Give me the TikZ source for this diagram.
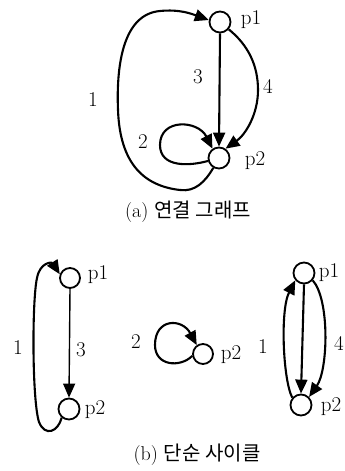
\documentclass[tikz,border=0pt]{standalone}
\usepackage{fontspec}
\newfontfamily\kr{Noto Sans CJK KR}
\usetikzlibrary{arrows.meta}
\begin{document}
\begin{tikzpicture}[x=1pt,y=-1pt,
  vtx/.style={circle,draw,line width=1.8pt,minimum size=21pt,inner sep=0pt},
  edge/.style={line width=2.1pt,-{Triangle[length=14pt,width=12pt]}},
  lbl/.style={font=\fontsize{21}{21}\selectfont,inner sep=0pt},
  captext/.style={font=\fontsize{20}{20}\selectfont,inner sep=0pt}]
\useasboundingbox (0,0) rectangle (345,471);
% (a)
\node[vtx] (a1) at (220,22) {};
\node[vtx] (a2) at (219,158) {};
\node[lbl] (a1l) at (251,20) {p1};
\node[lbl] (a2l) at (255,161) {p2};
\draw[edge] (a1.south) -- (a2.north);
\draw[edge] (a1.-40) .. controls (248,45) and (258,65) .. (258,90) .. controls (258,115) and (245,135) .. (a2.55);
\draw[edge] (a2.240) .. controls (205,182) and (195,192) .. (180,190) .. controls (145,186) and (120,165) .. (118,110) .. controls (116,60) and (125,14) .. (160,11) .. controls (180,9) and (192,14) .. (a1.170);
\draw[edge] (a2.195) .. controls (190,166) and (160,168) .. (160,145) .. controls (160,118) and (198,120) .. (a2.125);
\node[lbl] (la1) at (93,100) {1};
\node[lbl] (la2) at (143,142) {2};
\node[lbl] (la3) at (198,77) {3};
\node[lbl] (la4) at (268,86) {4};
\node[captext] (capa) at (188,212) {(a)\ {\kr 연결 그래프}};
% (b) left
\node[vtx,minimum size=20pt] (b1) at (70,278) {};
\node[vtx] (b2) at (69,409) {};
\node[lbl] (b1l) at (98,275) {p1};
\node[lbl] (b2l) at (95,410) {p2};
\draw[edge,line width=1.4pt] (b1.south) -- (b2.north);
\draw[edge] (b2.230) .. controls (58,432) and (45,437) .. (39,422) .. controls (32,400) and (32,300) .. (37,278) .. controls (40,262) and (52,262) .. (b1.160);
\node[lbl] (lb1) at (18,348) {1};
\node[lbl] (lb3) at (81,350) {3};
% (b) middle
\node[vtx,minimum size=20pt] (c2) at (203,354) {};
\node[lbl] (c2l) at (231,355) {p2};
\node[lbl] (lc2) at (136,342) {2};
\draw[edge] (c2.190) .. controls (180,368) and (155,366) .. (155,345) .. controls (155,318) and (182,318) .. (c2.125);
% (b) right
\node[vtx] (d1) at (304,273) {};
\node[vtx] (d2) at (301,405) {};
\node[lbl] (d1l) at (329,273) {p1};
\node[lbl] (d2l) at (331,407) {p2};
\draw[edge] (d1.south) -- (d2.north);
\draw[edge] (d2.140) .. controls (283,380) and (280,310) .. (d1.220);
\draw[edge] (d1.-40) .. controls (330,300) and (328,370) .. (d2.45);
\node[lbl] (ld1) at (263,347) {1};
\node[lbl] (ld4) at (339,343) {4};
\node[captext] (capb) at (197,455) {(b)\ {\kr 단순 사이클}};
\end{tikzpicture}
\end{document}
